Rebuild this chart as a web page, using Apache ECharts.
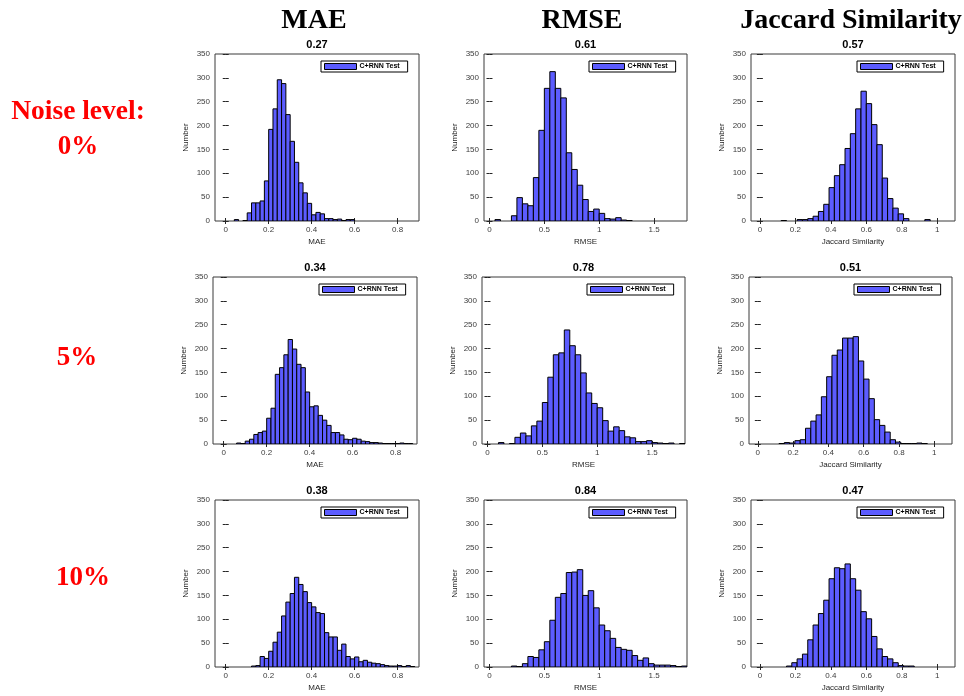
<!DOCTYPE html>
<html><head><meta charset="utf-8">
<script src="https://cdn.jsdelivr.net/npm/echarts@6/dist/echarts.min.js"></script>
<style>html,body{margin:0;padding:0;background:#fff}#c{width:964px;height:696px}</style>
</head><body><div id="c"></div><script>
// ---------- data ----------
const metricNames = ['MAE', 'RMSE', 'Jaccard Similarity'];
const noiseLabels = ['0%', '5%', '10%'];
const rowHeading = 'Noise level:';
const legendName = 'C+RNN Test';
const yAxisName = 'Number';
const panelTitles = ['0.27', '0.61', '0.57', '0.34', '0.78', '0.51', '0.38', '0.84', '0.47'];
const xMaxByMetric = [0.9, 1.8, 1.1];
const xMinAll = -0.05;
const xTicksMAE = [0, 0.2, 0.4, 0.6, 0.8];
const xTicksRMSE = [0, 0.5, 1, 1.5];
const xTicksJaccard = [0, 0.2, 0.4, 0.6, 0.8, 1];
const yMax = 350, yStep = 50;
const binWidthByMetric = [0.02, 0.05, 0.03];

// histogram counts, each with the left edge of its first bin
const mae0Start = 0.04;
const mae0Counts = [3, 0, 1, 17, 38, 38, 42, 84, 192, 235, 296, 288, 223, 167, 123, 80, 59, 37, 13, 18, 15, 5, 5, 3, 4, 1, 3, 3];
const rmse0Start = 0.05;
const rmse0Counts = [3, 0, 0, 11, 49, 36, 32, 91, 190, 278, 313, 278, 258, 143, 108, 75, 45, 20, 25, 16, 5, 4, 7, 2, 1];
const jac0Start = 0.12;
const jac0Counts = [1, 0, 0, 3, 3, 5, 10, 20, 35, 70, 95, 118, 152, 183, 235, 272, 246, 202, 160, 90, 47, 27, 15, 5, 0, 0, 0, 3];
const mae5Start = 0.06;
const mae5Counts = [2, 1, 6, 10, 20, 24, 27, 54, 75, 146, 160, 187, 219, 199, 167, 160, 109, 78, 80, 60, 50, 39, 24, 24, 19, 10, 9, 12, 10, 6, 5, 3, 3, 2, 1, 1, 1, 1, 2, 1, 1];
const rmse5Start = 0.10;
const rmse5Counts = [3, 0, 1, 14, 23, 17, 38, 48, 87, 140, 187, 191, 239, 206, 187, 149, 107, 85, 76, 49, 27, 36, 28, 15, 13, 5, 5, 7, 3, 2, 1, 2, 0, 1];
const jac5Start = 0.12;
const jac5Counts = [1, 3, 2, 7, 9, 33, 48, 61, 99, 141, 186, 197, 222, 222, 225, 174, 136, 95, 51, 39, 25, 9, 4, 1, 1, 1, 2, 1];
const mae10Start = 0.12;
const mae10Counts = [2, 3, 22, 18, 33, 52, 73, 107, 136, 154, 188, 173, 158, 135, 126, 114, 112, 72, 63, 63, 35, 48, 22, 17, 21, 11, 14, 10, 8, 7, 5, 3, 2, 2, 3, 1, 3, 1];
const rmse10Start = 0.20;
const rmse10Counts = [2, 1, 7, 22, 20, 36, 53, 98, 146, 154, 198, 199, 204, 150, 160, 124, 88, 76, 60, 41, 37, 35, 24, 14, 19, 7, 4, 4, 4, 3, 1, 2];
const jac10Start = 0.15;
const jac10Counts = [2, 9, 17, 27, 57, 88, 112, 140, 185, 208, 206, 216, 185, 161, 116, 101, 64, 38, 22, 17, 9, 3, 2, 2];

// ---------- layout / style ----------
const FONT = '"Liberation Sans", Arial, sans-serif';
const SERIF = '"Liberation Serif", "Times New Roman", serif';
const BAR = '#5c5cff';
const INK = '#262626';
const PLOT_H = 167;
const boxes = [[215, 54, 204], [484, 54, 203], [751, 54, 204],
               [213, 277, 204], [482, 277, 203], [749, 277, 203],
               [215, 500, 204], [484, 500, 203], [751, 500, 204]];
const headerPos = [[314, 21], [582, 21], [851, 21]];
const rowLabelPos = [[78, 147], [77, 358], [83, 578]];

const starts = [mae0Start, rmse0Start, jac0Start, mae5Start, rmse5Start, jac5Start, mae10Start, rmse10Start, jac10Start];
const countsList = [mae0Counts, rmse0Counts, jac0Counts, mae5Counts, rmse5Counts, jac5Counts, mae10Counts, rmse10Counts, jac10Counts];
const ticksByMetric = [xTicksMAE, xTicksRMSE, xTicksJaccard];

const grids = [], xAxes = [], yAxes = [], series = [], titles = [], legends = [];

headerPos.forEach((p, k) => titles.push({
  text: metricNames[k], left: p[0], top: p[1], textAlign: 'center', textVerticalAlign: 'middle', padding: 0,
  textStyle: {fontFamily: SERIF, fontWeight: 'bold', fontSize: 28, color: '#000'}
}));
titles.push({
  text: rowHeading, left: 78, top: 112, textAlign: 'center', textVerticalAlign: 'middle', padding: 0,
  textStyle: {fontFamily: SERIF, fontWeight: 'bold', fontSize: 27.5, color: '#ff0000'}
});
rowLabelPos.forEach((p, k) => titles.push({
  text: noiseLabels[k], left: p[0], top: p[1], textAlign: 'center', textVerticalAlign: 'middle', padding: 0,
  textStyle: {fontFamily: SERIF, fontWeight: 'bold', fontSize: 27, color: '#ff0000'}
}));

function renderBin(params, api) {
  const c = api.value(2);
  if (!c) return null;
  const p0 = api.coord([api.value(0), 0]);
  const p1 = api.coord([api.value(1), c]);
  return {
    type: 'rect',
    shape: {x: p0[0], y: p1[1], width: p1[0] - p0[0], height: p0[1] - p1[1]},
    style: {fill: BAR, stroke: '#000', lineWidth: 1}
  };
}

for (let i = 0; i < 9; i++) {
  const m = i % 3;
  const [gx, gy, gw] = boxes[i];
  const ticks = ticksByMetric[m];
  const bw = binWidthByMetric[m];
  grids.push({left: gx, top: gy, width: gw, height: PLOT_H, show: true, borderColor: '#3a3a3a', borderWidth: 1, backgroundColor: '#fff'});
  const tickStyle = {inside: true, length: 3, lineStyle: {color: INK, width: 1}};
  xAxes.push({
    gridIndex: i, type: 'value', min: xMinAll, max: xMaxByMetric[m], position: 'bottom',
    name: metricNames[m], nameLocation: 'middle', nameGap: 17,
    nameTextStyle: {fontFamily: FONT, fontSize: 8, color: INK},
    axisLine: {show: false}, splitLine: {show: false},
    axisTick: Object.assign({customValues: ticks}, tickStyle),
    axisLabel: {customValues: ticks, fontFamily: FONT, fontSize: 8, color: '#3c3c3c', margin: 5, formatter: v => String(v)}
  });
  xAxes.push({
    gridIndex: i, type: 'value', min: xMinAll, max: xMaxByMetric[m], position: 'top',
    axisLine: {show: false}, splitLine: {show: false}, axisLabel: {show: false},
    axisTick: Object.assign({customValues: ticks}, tickStyle)
  });
  yAxes.push({
    gridIndex: i, type: 'value', min: 0, max: yMax, interval: yStep, position: 'left',
    name: yAxisName, nameLocation: 'middle', nameGap: 25,
    nameTextStyle: {fontFamily: FONT, fontSize: 8, color: INK},
    axisLine: {show: false}, splitLine: {show: false},
    axisTick: tickStyle,
    axisLabel: {fontFamily: FONT, fontSize: 8, color: '#3c3c3c', margin: 5}
  });
  yAxes.push({
    gridIndex: i, type: 'value', min: 0, max: yMax, interval: yStep, position: 'right',
    axisLine: {show: false}, splitLine: {show: false}, axisLabel: {show: false},
    axisTick: tickStyle
  });
  const data = countsList[i].map((c, k) => {
    const x0 = +(starts[i] + k * bw).toFixed(4);
    return [x0, +(x0 + bw).toFixed(4), c];
  });
  series.push({
    type: 'custom', name: legendName, xAxisIndex: 2 * i, yAxisIndex: 2 * i,
    renderItem: renderBin, encode: {x: [0, 1], y: 2}, data: data, clip: true, silent: true,
    itemStyle: {color: BAR}
  });
  titles.push({
    text: panelTitles[i], left: gx + gw / 2, top: gy - 9, textAlign: 'center', textVerticalAlign: 'middle', padding: 0,
    textStyle: {fontFamily: FONT, fontWeight: 'bold', fontSize: 11, color: '#000'}
  });
  legends.push({
    left: gx + gw - 98, top: gy + 7, data: [legendName], orient: 'horizontal',
    backgroundColor: '#fff', borderColor: '#000', borderWidth: 1, borderRadius: 0,
    padding: [2, 8, 2, 3], itemWidth: 32, itemHeight: 6, itemGap: 0, icon: 'rect',
    itemStyle: {borderColor: '#000', borderWidth: 1},
    textStyle: {fontFamily: FONT, fontSize: 7, fontWeight: 'bold', color: '#000', padding: [0, 0, 0, -2]},
    selectedMode: false
  });
}

const chart = echarts.init(document.getElementById('c'), null, {renderer: 'canvas'});
chart.setOption({
  animation: false, backgroundColor: '#fff',
  title: titles, legend: legends, grid: grids, xAxis: xAxes, yAxis: yAxes, series: series
});
</script></body></html>
